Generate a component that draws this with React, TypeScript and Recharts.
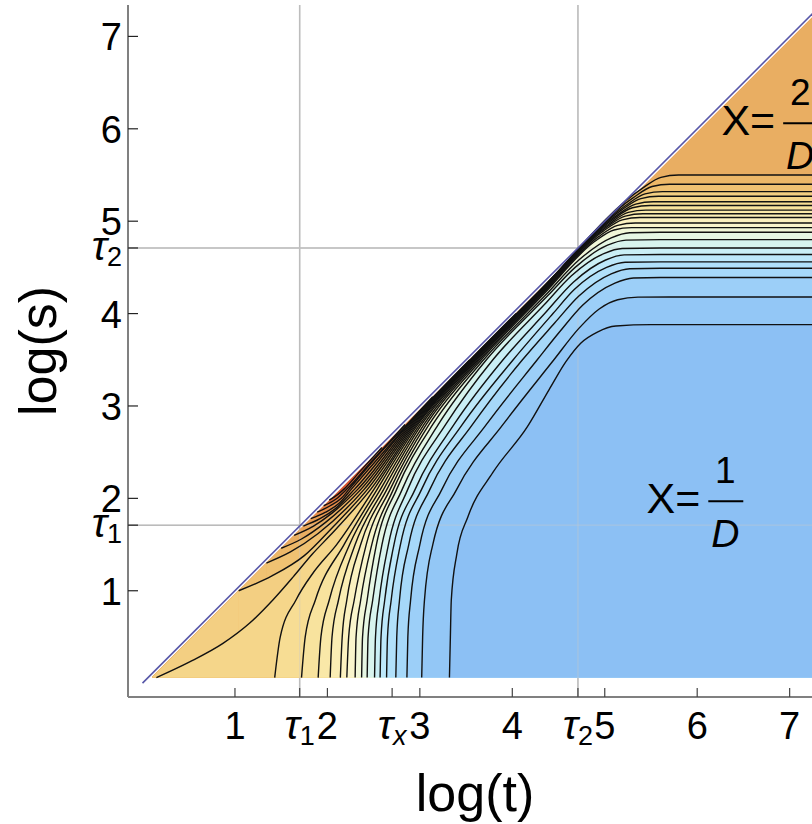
import {
  ComposedChart,
  Area,
  Line,
  XAxis,
  YAxis,
  CartesianGrid,
  ReferenceDot,
  ReferenceLine,
} from "recharts";

type Pt = [number, number];

const FONT = '"Liberation Sans", Arial, Helvetica, sans-serif';

// axis ticks
const X_TICKS = [1, 1.7, 2, 2.7, 3, 4, 4.71, 5, 6, 7];
const X_LABELS = ["1", "τ1", "2", "τx", "3", "4", "τ2", "5", "6", "7"];
const Y_TICKS = [1, 1.71, 2, 3, 4, 4.71, 5, 6, 7];
const Y_LABELS = ["1", "τ1", "2", "3", "4", "τ2", "5", "6", "7"];
const TAU_T = [1.7, 4.71];
const TAU_S = [1.71, 4.71];

// s = t line and the edge of the filled region just under it
const DIAGONAL: Pt[] = [[0, 0], [7.6, 7.6]];
const FILL_EDGE: Pt[] = [[0.1, 0.06], [7.4, 7.36]];

// closed loops hugging the diagonal (red maximum near s ~ 2.2)
const L1: Pt[] = [[1.64, 1.6], [1.85, 1.7], [2.05, 1.84], [2.33, 2.1], [2.89, 2.8], [3.55, 3.5], [4.247, 4.2], [4.64, 4.6]];
const L2: Pt[] = [[1.74, 1.7], [1.92, 1.78], [2.1, 1.9], [2.295, 2.1], [2.875, 2.8], [3.545, 3.5], [4.04, 4.0]];
const L3: Pt[] = [[1.82, 1.78], [1.98, 1.85], [2.13, 1.95], [2.26, 2.1], [2.65, 2.55], [2.87, 2.8], [3.54, 3.5]];
const L4: Pt[] = [[1.89, 1.85], [2.03, 1.92], [2.15, 2.0], [2.235, 2.1], [2.56, 2.48], [2.85, 2.79], [3.14, 3.1]];
const L5: Pt[] = [[1.96, 1.92], [2.09, 1.99], [2.21, 2.1], [2.46, 2.38], [2.84, 2.8]];
const L6: Pt[] = [[2.02, 1.98], [2.11, 2.04], [2.18, 2.1], [2.36, 2.3], [2.59, 2.55]];

// contours leaving the diagonal and ending as horizontals
const D1: Pt[] = [[1.04, 1.0], [1.4, 1.16], [1.75, 1.38], [2.05, 1.68], [2.435, 2.1], [2.935, 2.8], [3.568, 3.5], [4.262, 4.2], [5.226, 5.17], [5.436, 5.295], [5.626, 5.32], [7.8, 5.32]];
const D2: Pt[] = [[1.34, 1.3], [1.6, 1.42], [1.9, 1.62], [2.4, 2.1], [2.92, 2.8], [3.562, 3.5], [4.257, 4.2], [5.302, 5.25], [5.512, 5.375], [5.702, 5.4], [7.8, 5.4]];
const D3: Pt[] = [[1.5, 1.46], [1.72, 1.56], [1.98, 1.74], [2.365, 2.1], [2.905, 2.8], [3.556, 3.5], [4.252, 4.2], [5.398, 5.35], [5.608, 5.475], [5.798, 5.5], [7.8, 5.5]];

// contour from the lower-left corner
const B0: Pt[] = [[0.15, 0.06], [0.51, 0.23], [0.87, 0.43], [1.16, 0.65], [1.41, 0.9], [1.63, 1.15], [1.84, 1.4], [2.03, 1.6], [2.47, 2.1], [2.95, 2.8], [3.575, 3.5], [4.267, 4.2], [5.18, 5.12], [5.39, 5.245], [5.58, 5.27], [7.8, 5.27]];

// contours rising from the bottom edge
const C01: Pt[] = [[1.43, 0.06], [1.49, 0.5], [1.66, 0.9], [1.85, 1.2], [2.1, 1.5], [2.505, 2.1], [2.965, 2.8], [3.582, 3.5], [4.272, 4.2], [5.125, 5.06], [5.335, 5.185], [5.525, 5.21], [7.8, 5.21]];
const C02: Pt[] = [[1.72, 0.06], [1.76, 0.5], [1.87, 0.9], [2.18, 1.5], [2.54, 2.1], [2.98, 2.8], [3.59, 3.5], [4.278, 4.2], [5.09, 5.02], [5.3, 5.145], [5.49, 5.17], [7.8, 5.17]];
const C03: Pt[] = [[1.9, 0.06], [1.93, 0.5], [2.02, 0.9], [2.24, 1.5], [2.575, 2.1], [3.0, 2.8], [3.6, 3.5], [4.285, 4.2], [5.045, 4.97], [5.255, 5.095], [5.445, 5.12], [7.8, 5.12]];
const C04: Pt[] = [[2.03, 0.06], [2.05, 0.5], [2.12, 0.9], [2.3, 1.5], [2.61, 2.1], [3.02, 2.8], [3.613, 3.5], [4.293, 4.2], [5.012, 4.93], [5.222, 5.055], [5.412, 5.08], [7.8, 5.08]];
const C05: Pt[] = [[2.14, 0.06], [2.16, 0.5], [2.21, 0.9], [2.36, 1.5], [2.645, 2.1], [3.045, 2.8], [3.628, 3.5], [4.303, 4.2], [4.98, 4.89], [5.19, 5.015], [5.38, 5.04], [7.8, 5.04]];
const C06: Pt[] = [[2.21, 0.06], [2.23, 0.5], [2.29, 0.9], [2.42, 1.5], [2.68, 2.1], [3.07, 2.8], [3.645, 3.5], [4.315, 4.2], [4.93, 4.83], [5.14, 4.955], [5.33, 4.98], [7.8, 4.98]];
const C07: Pt[] = [[2.3, 0.06], [2.31, 0.5], [2.36, 0.9], [2.48, 1.5], [2.715, 2.1], [3.1, 2.8], [3.665, 3.5], [4.33, 4.2], [4.89, 4.78], [5.1, 4.905], [5.29, 4.93], [7.8, 4.93]];
const C08: Pt[] = [[2.37, 0.06], [2.38, 0.5], [2.43, 0.9], [2.53, 1.5], [2.75, 2.1], [3.14, 2.8], [3.69, 3.5], [4.36, 4.2], [4.72, 4.58], [5.07, 4.82], [5.27, 4.875], [5.6, 4.88], [7.8, 4.88]];
const C09: Pt[] = [[2.43, 0.06], [2.44, 0.5], [2.49, 0.9], [2.59, 1.5], [2.81, 2.1], [3.2, 2.8], [3.72, 3.5], [4.39, 4.2], [4.68, 4.5], [5.03, 4.74], [5.23, 4.795], [5.6, 4.8], [7.8, 4.8]];
const C10: Pt[] = [[2.51, 0.06], [2.52, 0.5], [2.56, 0.9], [2.66, 1.5], [2.87, 2.1], [3.28, 2.8], [3.79, 3.5], [4.35, 4.1], [4.64, 4.41], [4.99, 4.65], [5.19, 4.705], [5.6, 4.71], [7.8, 4.71]];
const C11: Pt[] = [[2.57, 0.06], [2.58, 0.5], [2.62, 0.9], [2.72, 1.5], [2.95, 2.1], [3.37, 2.8], [3.9, 3.5], [4.35, 4.0], [4.66, 4.34], [5.01, 4.58], [5.21, 4.635], [5.6, 4.64], [7.8, 4.64]];
const C12: Pt[] = [[2.64, 0.06], [2.65, 0.5], [2.69, 0.9], [2.79, 1.5], [3.02, 2.1], [3.46, 2.8], [4.01, 3.5], [4.44, 4.0], [4.67, 4.26], [5.02, 4.5], [5.22, 4.555], [5.6, 4.56], [7.8, 4.56]];
const C13: Pt[] = [[2.74, 0.06], [2.75, 0.5], [2.78, 0.9], [2.88, 1.5], [3.11, 2.1], [3.57, 2.8], [4.11, 3.5], [4.46, 3.9], [4.72, 4.19], [5.07, 4.43], [5.27, 4.485], [5.6, 4.49], [7.8, 4.49]];
const C14: Pt[] = [[2.86, 0.06], [2.87, 0.5], [2.9, 0.9], [3.0, 1.5], [3.24, 2.1], [3.72, 2.8], [4.27, 3.5], [4.51, 3.8], [4.76, 4.09], [5.11, 4.33], [5.31, 4.385], [5.6, 4.39], [7.8, 4.39]];
const C15: Pt[] = [[3.02, 0.06], [3.03, 0.5], [3.05, 0.9], [3.14, 1.5], [3.4, 2.1], [3.9, 2.8], [4.45, 3.5], [4.72, 3.84], [4.94, 4.05], [5.14, 4.15], [5.36, 4.178], [5.7, 4.18], [7.8, 4.18]];
const C16: Pt[] = [[3.32, 0.06], [3.33, 0.5], [3.34, 0.9], [3.4, 1.4], [3.52, 1.8], [3.79, 2.28], [4.16, 2.77], [4.4, 3.18], [4.58, 3.48], [4.74, 3.68], [4.92, 3.8], [5.12, 3.865], [5.5, 3.88], [7.8, 3.88]];

// innermost loop first
const LOOPS = [L6, L5, L4, L3, L2, L1];
const LOOP_FILLS = ["#de6a38", "#e27e42", "#e68e4a", "#e89c52", "#e9a55a", "#e9ae62"];
const CORE_FILL = "#d9542e";
const RIDGE = [D3, D2, D1];
const RIDGE_FILLS = ["#edb868", "#f0c272", "#f3cf82"];
const FAN = [B0, C01, C02, C03, C04, C05, C06, C07, C08, C09, C10, C11, C12, C13, C14, C15, C16];
const FAN_FILLS = [
  "#f5d68a", "#f7dd94", "#f8e39e", "#f9e8a8", "#faedb4", "#fbf1c0", "#f9f5cc", "#f1f7d8", "#e6f7e4",
  "#d8f4ee", "#caeff6", "#bde8fa", "#b1e0fa", "#a6d8f9", "#9ccff8", "#93c7f6", "#8cc0f4",
];

const ANNOT_ONE = { t: 6.12, s: 1.97, num: "1" };
const ANNOT_TWO = { t: 6.93, s: 6.06, num: "2" };

const rows = (pts: Pt[]) => pts.map(([t, s]) => ({ t, s }));

// paint order: each layer is the region under a curve
const layers: { key: string; pts: Pt[]; fill: string }[] = [];
layers.push({ key: "core", pts: FILL_EDGE, fill: CORE_FILL });
LOOPS.forEach((lp, i) => {
  const fill = LOOP_FILLS[i];
  layers.push({ key: `lpa${i}`, pts: [FILL_EDGE[0], lp[0]], fill });
  layers.push({ key: `lpb${i}`, pts: lp, fill });
  layers.push({ key: `lpc${i}`, pts: [lp[lp.length - 1], FILL_EDGE[1]], fill });
});
RIDGE.forEach((c, i) => {
  layers.push({ key: `rga${i}`, pts: [FILL_EDGE[0], c[0]], fill: RIDGE_FILLS[i] });
  layers.push({ key: `rgb${i}`, pts: c, fill: RIDGE_FILLS[i] });
});
FAN.forEach((c, i) => {
  layers.push({ key: `fan${i}`, pts: c, fill: FAN_FILLS[i] });
});

const CONTOURS = [...LOOPS, ...RIDGE, ...FAN];

function TickText({ x, y, label, anchor }: any) {
  if (label.startsWith("τ")) {
    const sub = label.slice(1);
    return (
      <text x={x} y={y} textAnchor={anchor} fontSize={39} fontFamily={FONT} fill="#000">
        <tspan fontStyle="italic" fontSize={41}>τ</tspan>
        <tspan fontSize={27} dy={6} fontStyle={sub === "x" ? "italic" : "normal"}>
          {sub}
        </tspan>
      </text>
    );
  }
  return (
    <text x={x} y={y} textAnchor={anchor} fontSize={38} fontFamily={FONT} fill="#000">
      {label}
    </text>
  );
}

function XTick({ x, y, payload }: any) {
  const label = X_LABELS[X_TICKS.indexOf(payload.value)];
  return (
    <g>
      <line x1={x} x2={x} y1={y} y2={y - 9} stroke="#444" strokeWidth={1.2} />
      <TickText x={x} y={y + 42} label={label} anchor="middle" />
    </g>
  );
}

function YTick({ x, y, payload }: any) {
  const label = Y_LABELS[Y_TICKS.indexOf(payload.value)];
  const tau = label.startsWith("τ");
  return (
    <g>
      <line x1={x} x2={x + 10} y1={y} y2={y} stroke="#222" strokeWidth={1.2} />
      <TickText x={x - 6} y={y + (tau ? 12 : 14)} label={label} anchor="end" />
    </g>
  );
}

function XTitle({ viewBox }: any) {
  return (
    <text x={viewBox.x + viewBox.width / 2} y={viewBox.y + 114} textAnchor="middle" fontSize={52} fontFamily={FONT}>
      log(t)
    </text>
  );
}

function YTitle({ viewBox }: any) {
  const cx = 56;
  const cy = viewBox.y + viewBox.height / 2;
  return (
    <text x={cx} y={cy} transform={`rotate(-90 ${cx} ${cy})`} textAnchor="middle" fontSize={52} fontFamily={FONT}>
      log(s)
    </text>
  );
}

function Fraction({ cx, cy, num }: any) {
  return (
    <g fontFamily={FONT} fill="#000">
      <text x={cx - 8} y={cy + 12} fontSize={43} textAnchor="end">
        X=
      </text>
      <line x1={cx} x2={cx + 35} y1={cy} y2={cy} stroke="#000" strokeWidth={2} />
      <text x={cx + 17} y={cy - 18} fontSize={37} textAnchor="middle">
        {num}
      </text>
      <text x={cx + 17} y={cy + 46} fontSize={39} fontStyle="italic" textAnchor="middle">
        D
      </text>
    </g>
  );
}

export default function App() {
  return (
    <div
      style={{
        position: "absolute",
        left: 0,
        top: 0,
        width: 812,
        height: 824,
        overflow: "hidden",
        background: "#fff",
      }}
    >
      <ComposedChart width={830} height={824} margin={{ top: 5, right: 8, bottom: 0, left: 0 }}>
        <CartesianGrid
          verticalValues={TAU_T}
          horizontalValues={TAU_S}
          stroke="#b5b5b5"
          strokeWidth={1.5}
        />

        <XAxis
          type="number"
          dataKey="t"
          domain={[-0.157, 7.35]}
          allowDataOverflow
          ticks={X_TICKS}
          interval={0}
          tick={XTick}
          tickLine={false}
          tickSize={0}
          tickMargin={0}
          axisLine={{ stroke: "#808080", strokeWidth: 2 }}
          height={127}
          label={XTitle}
        />
        <XAxis
          xAxisId="top"
          orientation="top"
          type="number"
          domain={[-0.157, 7.35]}
          height={0}
          tick={false}
          tickLine={false}
          axisLine={{ stroke: "#808080", strokeWidth: 2 }}
        />
        <YAxis
          type="number"
          domain={[-0.15, 7.34]}
          allowDataOverflow
          ticks={Y_TICKS}
          interval={0}
          tick={YTick}
          tickLine={false}
          tickSize={0}
          tickMargin={0}
          axisLine={{ stroke: "#808080", strokeWidth: 2 }}
          width={128}
          label={YTitle}
        />

        {layers.map((l) => (
          <Area
            key={l.key}
            data={rows(l.pts)}
            dataKey="s"
            type="monotone"
            baseValue={0.06}
            fill={l.fill}
            fillOpacity={1}
            stroke="none"
            dot={false}
            activeDot={false}
            isAnimationActive={false}
          />
        ))}

        {/* faint grid showing through the filled region */}
        {TAU_T.map((v) => (
          <ReferenceLine key={`gx${v}`} x={v} stroke="#c8c8c8" strokeOpacity={0.4} strokeWidth={1.3} />
        ))}
        {TAU_S.map((v) => (
          <ReferenceLine key={`gy${v}`} y={v} stroke="#c8c8c8" strokeOpacity={0.4} strokeWidth={1.3} />
        ))}

        {CONTOURS.map((c, i) => (
          <Line
            key={`ct${i}`}
            data={rows(c)}
            dataKey="s"
            type="monotone"
            stroke="#111"
            strokeWidth={1.4}
            dot={false}
            activeDot={false}
            isAnimationActive={false}
          />
        ))}

        <Line
          data={rows(DIAGONAL)}
          dataKey="s"
          type="linear"
          stroke="#5757a8"
          strokeWidth={1.6}
          dot={false}
          activeDot={false}
          isAnimationActive={false}
        />

        <ReferenceDot
          x={ANNOT_ONE.t}
          y={ANNOT_ONE.s}
          r={0}
          shape={(p: any) => <Fraction cx={p.cx} cy={p.cy} num={ANNOT_ONE.num} />}
        />
        <ReferenceDot
          x={ANNOT_TWO.t}
          y={ANNOT_TWO.s}
          r={0}
          shape={(p: any) => <Fraction cx={p.cx} cy={p.cy} num={ANNOT_TWO.num} />}
        />
      </ComposedChart>
    </div>
  );
}
